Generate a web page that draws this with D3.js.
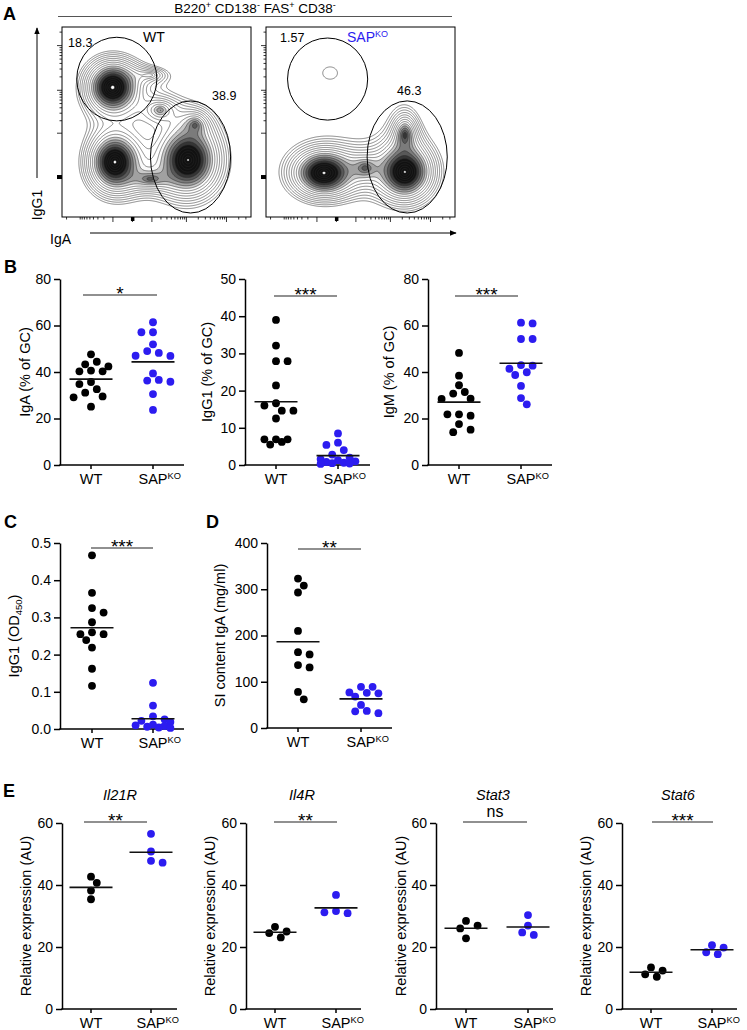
<!DOCTYPE html>
<html><head><meta charset="utf-8">
<script src="https://cdn.jsdelivr.net/npm/d3@7"></script>
<style>
body{margin:0;background:#fff}
svg text{font-family:"Liberation Sans",Arial,Helvetica,sans-serif;fill:#000}
</style></head>
<body><svg id="c" width="747" height="1030"></svg>
<script>
// ---------------- DATA ----------------
const groups = ["WT", "SAP"];
// Panel B
const igaWT  = [47.6, 44.4, 43.3, 42.4, 40.6, 40.3, 40.3, 35.7, 34.8, 32.6, 31.1, 29.5, 29.1, 25.1];
const igaSAP = [61.4, 57.1, 57.1, 51.9, 49.0, 48.2, 47.0, 46.9, 39.4, 36.6, 36.3, 35.8, 30.5, 23.7];
const igg1WT  = [39.0, 32.1, 27.9, 27.9, 21.4, 16.6, 16.0, 14.6, 14.6, 12.5, 6.9, 6.9, 6.9, 6.2, 5.5];
const igg1SAP = [8.5, 6.0, 5.4, 4.0, 2.8, 2.0, 1.6, 1.3, 1.0, 0.8, 0.6, 0.5, 0.4, 0.3];
const igmWT  = [48.2, 38.4, 34.3, 31.4, 30.7, 28.5, 28.4, 21.8, 21.8, 21.2, 17.6, 15.2, 14.1];
const igmSAP = [61.2, 60.9, 54.2, 54.2, 43.0, 42.7, 41.4, 39.9, 38.7, 34.0, 28.8, 26.1];
// Panel C
const odWT  = [0.467, 0.366, 0.325, 0.313, 0.287, 0.260, 0.255, 0.255, 0.239, 0.219, 0.162, 0.116];
const odSAP = [0.124, 0.063, 0.034, 0.026, 0.022, 0.019, 0.012, 0.010, 0.008, 0.006, 0.004, 0.003];
// Panel D
const siWT  = [323, 308, 293, 210, 164, 159, 136, 131, 78, 62];
const siSAP = [89, 89, 77, 76, 75, 68, 50, 37, 36, 32];
// Panel E
const il21rWT = [42.7, 40.7, 38.2, 35.4], il21rSAP = [56.5, 50.8, 47.8, 47.2];
const il4rWT  = [26.5, 25.0, 24.5, 23.1], il4rSAP  = [36.8, 31.6, 31.2, 30.9];
const stat3WT = [28.4, 26.9, 26.0, 22.8], stat3SAP = [30.3, 26.9, 24.7, 23.9];
const stat6WT = [13.4, 12.4, 11.2, 10.4], stat6SAP = [20.6, 19.8, 18.3, 17.7];
// tick labels
const ticksPct80 = [0, 20, 40, 60, 80];
const ticksPct50 = [0, 10, 20, 30, 40, 50];
const ticksOD = [0, 0.1, 0.2, 0.3, 0.4, 0.5];
const ticksSI = [0, 100, 200, 300, 400];
const ticksE = [0, 20, 40, 60];
const sigB = ["*", "***", "***"], sigC = "***", sigD = "**", sigE = ["**", "**", "ns", "***"];
const eTitles = ["Il21R", "Il4R", "Stat3", "Stat6"];
// Panel A: gate percentages and population shapes (fractions of plot box)
const gatesWT = ["18.3", "38.9"], gatesSAP = ["1.57", "46.3"];
const popWT = [
  {u:0.268, v:0.318, su:0.180, sv:0.180, w:1.20},
  {u:0.280, v:0.711, su:0.180, sv:0.205, w:1.15},
  {u:0.667, v:0.700, su:0.220, sv:0.245, w:1.10},
  {u:0.519, v:0.437, su:0.190, sv:0.140, w:0.24},
  {u:0.466, v:0.253, su:0.220, sv:0.090, w:0.15},
  {u:0.466, v:0.800, su:0.220, sv:0.100, w:0.28},
  {u:0.704, v:0.516, su:0.130, sv:0.130, w:0.26}
];
const popSAP = [
  {u:0.307, v:0.768, su:0.220, sv:0.165, w:1.15},
  {u:0.735, v:0.763, su:0.195, sv:0.195, w:1.10},
  {u:0.735, v:0.568, su:0.110, sv:0.190, w:0.40},
  {u:0.524, v:0.742, su:0.160, sv:0.130, w:0.28},
  {u:0.339, v:0.242, su:0.870, sv:0.720, w:0.057}
];

// ---------------- DRAW ----------------
const svg = d3.select("#c");
const BLUE = "#2c1cf0";
const FONT = 14;

function panelLetter(t, x, y) {
  svg.append("text").attr("x", x).attr("y", y).attr("font-size", 18).attr("font-weight", "bold").text(t);
}

function swarm(values, y, cx, r, step, maxSteps) {
  const placed = [], res = new Array(values.length);
  const order = values.map((v, i) => ({v, i})).sort((a, b) => b.v - a.v);
  const D = 2 * r + 0.4;
  order.forEach((d, k) => {
    const py = y(d.v);
    const sgn = k % 2 ? 1 : -1;
    const cands = [];
    for (let j = 0; j <= 2 * maxSteps; j++) cands.push(Math.ceil(j / 2) * (j % 2 ? sgn : -sgn));
    let best = null, bestD = -1;
    for (const m of cands) {
      const px = cx + m * step;
      const md = placed.length ? d3.min(placed, p => Math.hypot(p.x - px, p.y - py)) : Infinity;
      if (md >= D) { best = px; break; }
      if (md > bestD) { bestD = md; best = px; }
    }
    placed.push({x: best, y: py}); res[d.i] = {x: best, y: py};
  });
  return res;
}

function sapLabel(g, x, y, size) {
  const t = g.append("text").attr("y", y).attr("font-size", size);
  const s = t.append("tspan").text("SAP");
  t.append("tspan").attr("font-size", size * 0.64).attr("dy", -size * 0.36).text("KO");
  const L = s.node().getComputedTextLength();
  t.attr("x", x - L / 2);
  return t;
}

function dotPanel(c) {
  const g = svg.append("g");
  const y = d3.scaleLinear().domain([0, c.max]).range([c.y0, c.y1]);
  const x = d3.scalePoint().domain(groups).range([c.wtX, c.sapX]);
  const ax = d3.axisLeft(y).tickValues(c.ticks).tickSize(6).tickSizeOuter(0).tickPadding(3)
    .tickFormat(c.fmt ? d3.format(c.fmt) : d3.format("d"));
  const ga = g.append("g").attr("transform", `translate(${c.ax},0)`).call(ax);
  ga.selectAll("path,line").attr("stroke", "#000").attr("stroke-width", 1.5);
  ga.selectAll("text").attr("font-size", FONT).attr("font-family", '"Liberation Sans",Arial,sans-serif').attr("fill", "#000");
  g.append("line").attr("x1", c.ax - 0.75).attr("x2", c.xEnd).attr("y1", c.y0).attr("y2", c.y0)
    .attr("stroke", "#000").attr("stroke-width", 1.5);
  groups.forEach(k => {
    g.append("line").attr("x1", x(k)).attr("x2", x(k)).attr("y1", c.y0).attr("y2", c.y0 + 4)
      .attr("stroke", "#000").attr("stroke-width", 1.5);
  });
  g.append("text").attr("x", x("WT")).attr("y", c.y0 + 19).attr("text-anchor", "middle").attr("font-size", 14.5).text("WT");
  sapLabel(g, x("SAP"), c.y0 + 19, 14.5);
  const yl = g.append("text").attr("transform", `translate(${c.labelX},${(c.y0 + c.y1) / 2}) rotate(-90)`)
    .attr("text-anchor", "middle").attr("dominant-baseline", "central").attr("font-size", 14.5);
  if (c.labelParts) {
    yl.append("tspan").text(c.labelParts[0]);
    yl.append("tspan").attr("font-size", 9.5).attr("dy", 4).text(c.labelParts[1]);
    yl.append("tspan").attr("dy", -4).text(c.labelParts[2]);
  } else yl.text(c.label);
  const r = 3.9;
  [["WT", c.wt, "#000"], ["SAP", c.sap, BLUE]].forEach(([k, vals, col]) => {
    const pos = swarm(vals, y, x(k), r, 5.8, 3);
    g.append("g").selectAll("circle").data(pos).join("circle")
      .attr("cx", d => d.x).attr("cy", d => d.y).attr("r", r).attr("fill", col);
    const m = d3.mean(vals);
    g.append("line").attr("x1", x(k) - 21.5).attr("x2", x(k) + 21.5).attr("y1", y(m)).attr("y2", y(m))
      .attr("stroke", "#111").attr("stroke-width", 1.6);
  });
  g.append("line").attr("x1", c.sigX0).attr("x2", c.sigX1).attr("y1", c.sigY).attr("y2", c.sigY)
    .attr("stroke", "#222").attr("stroke-width", 1.2);
  if (c.sig === "ns") {
    g.append("text").attr("x", (c.sigX0 + c.sigX1) / 2).attr("y", c.sigY - 4.7).attr("text-anchor", "middle")
      .attr("font-size", 16).text("ns");
  } else {
    g.append("text").attr("x", (c.sigX0 + c.sigX1) / 2).attr("y", c.sigY + 4.5).attr("text-anchor", "middle")
      .attr("font-size", 19).text(c.sig);
  }
  if (c.title) {
    g.append("text").attr("x", c.titleX).attr("y", 800).attr("text-anchor", "middle")
      .attr("font-size", 14.5).attr("font-style", "italic").text(c.title);
  }
}

// ---------- Panel A ----------
panelLetter("A", 3, 20);
(function header() {
  const t = svg.append("text").attr("x", 255).attr("y", 13).attr("text-anchor", "middle").attr("font-size", 13.5);
  const parts = [["B220", "+"], [" CD138", "-"], [" FAS", "+"], [" CD38", "-"]];
  parts.forEach(([a, s], i) => {
    t.append("tspan").attr("dy", i === 0 ? 0 : 5).text(a);
    t.append("tspan").attr("font-size", 9).attr("dy", -5).text(s);
  });
  svg.append("line").attr("x1", 58).attr("x2", 452).attr("y1", 16.5).attr("y2", 16.5).attr("stroke", "#555").attr("stroke-width", 1.2);
})();

const boxTop = 27, boxH = 190, boxW = 189;
const fx = d3.scaleSymlog().constant(500).domain([-26000, 400000]).range([0, boxW]);
const fy = d3.scaleSymlog().constant(118).domain([-800, 260000]).range([boxH, 0]);
const flowMajor = [-1000, 0, 1000, 10000, 100000];
const flowMinor = [];
[1000, 10000, 100000].forEach(d => d3.range(2, 10).forEach(m => { flowMinor.push(m * d); flowMinor.push(-m * d); }));

const T0 = 0.05, TMAX = 1.7, NLEV = 22;
const flowLevels = d3.range(NLEV).map(k => T0 * Math.pow(TMAX / T0, k / (NLEV - 1)));
const shade = d3.interpolateRgb("#ffffff", "#111111");
function bandFill(t) {
  if (t >= 0.92) return "#ffffff";
  const g = Math.max(0, Math.min(1, (Math.log(t) - Math.log(0.16)) / (Math.log(0.45) - Math.log(0.16))));
  return shade(Math.pow(g, 0.85));
}

function flowPlot(left, pops, gates, labels, name, nameColor, nameX) {
  const g = svg.append("g");
  const clipId = "clip" + left;
  g.append("clipPath").attr("id", clipId).append("rect").attr("x", left).attr("y", boxTop).attr("width", boxW).attr("height", boxH);
  const gw = boxW, gh = boxH;
  const vals = new Float64Array(gw * gh);
  for (let j = 0; j < gh; j++) for (let i = 0; i < gw; i++) {
    const u = (i + 0.5) / gw, v = (j + 0.5) / gh;
    let s = 0;
    for (const p of pops) s += p.w * Math.exp(-3 * Math.hypot((u - p.u) / p.su, (v - p.v) / p.sv));
    vals[j * gw + i] = s;
  }
  const cont = d3.contours().size([gw, gh]).thresholds(flowLevels)(vals);
  const tr = d3.geoTransform({point(px, py) { this.stream.point(left + px, boxTop + py); }});
  const path = d3.geoPath(tr);
  g.append("g").attr("clip-path", `url(#${clipId})`).selectAll("path").data(cont).join("path")
    .attr("d", path)
    .attr("fill", d => bandFill(d.value))
    .attr("stroke", "#2a2a2a").attr("stroke-width", 0.55);
  g.append("rect").attr("x", left).attr("y", boxTop).attr("width", boxW).attr("height", boxH)
    .attr("fill", "none").attr("stroke", "#000").attr("stroke-width", 1);
  const tg = g.append("g").attr("stroke", "#000").attr("stroke-width", 0.8);
  flowMajor.forEach(t => {
    const X = left + fx(t), Y = boxTop + fy(t);
    if (X > left && X < left + boxW) tg.append("line").attr("x1", X).attr("x2", X).attr("y1", boxTop + boxH).attr("y2", boxTop + boxH + 5);
    if (Y > boxTop && Y < boxTop + boxH) tg.append("line").attr("x1", left).attr("x2", left - 5).attr("y1", Y).attr("y2", Y);
  });
  flowMinor.forEach(t => {
    const X = left + fx(t), Y = boxTop + fy(t);
    if (X > left + 1 && X < left + boxW - 1) tg.append("line").attr("x1", X).attr("x2", X).attr("y1", boxTop + boxH).attr("y2", boxTop + boxH + 2.5);
    if (Y > boxTop + 1 && Y < boxTop + boxH - 1) tg.append("line").attr("x1", left).attr("x2", left - 2.5).attr("y1", Y).attr("y2", Y);
  });
  g.append("rect").attr("x", left + fx(0) - 1.5).attr("y", boxTop + boxH).attr("width", 3.5).attr("height", 4).attr("fill", "#000");
  g.append("rect").attr("x", left - 5).attr("y", boxTop + fy(0) - 2).attr("width", 5).attr("height", 4).attr("fill", "#000");
  gates.forEach(e => {
    g.append("ellipse").attr("cx", left + e.u * boxW).attr("cy", boxTop + e.v * boxH)
      .attr("rx", e.ru * boxW).attr("ry", e.rv * boxH).attr("fill", "none").attr("stroke", "#000").attr("stroke-width", 1);
  });
  labels.forEach(l => g.append("text").attr("x", l.x).attr("y", l.y).attr("font-size", 12.5).text(l.t));
  const nt = g.append("text").attr("x", nameX).attr("y", 42).attr("font-size", 14).attr("fill", nameColor);
  if (name === "SAP") {
    nt.append("tspan").attr("fill", nameColor).text("SAP");
    nt.append("tspan").attr("fill", nameColor).attr("font-size", 9).attr("dy", -5).text("KO");
  } else nt.text(name);
}

flowPlot(62, popWT,
  [{u:0.29, v:0.274, ru:0.212, rv:0.22}, {u:0.68, v:0.684, ru:0.212, rv:0.295}],
  [{x:68, y:47, t:gatesWT[0]}, {x:212, y:100, t:gatesWT[1]}], "WT", "#000", 143);
flowPlot(266, popSAP,
  [{u:0.326, v:0.274, ru:0.212, rv:0.216}, {u:0.747, v:0.684, ru:0.212, rv:0.295}],
  [{x:280, y:42, t:gatesSAP[0]}, {x:397, y:95, t:gatesSAP[1]}], "SAP", BLUE, 347);

svg.append("defs").append("marker").attr("id", "arr").attr("viewBox", "0 0 10 10").attr("refX", 9).attr("refY", 5)
  .attr("markerWidth", 7).attr("markerHeight", 7).attr("orient", "auto")
  .append("path").attr("d", "M0,1 L10,5 L0,9 z").attr("fill", "#000");
svg.append("line").attr("x1", 37).attr("x2", 37).attr("y1", 178).attr("y2", 28).attr("stroke", "#000").attr("stroke-width", 1).attr("marker-end", "url(#arr)");
svg.append("line").attr("x1", 90).attr("x2", 456).attr("y1", 233).attr("y2", 233).attr("stroke", "#000").attr("stroke-width", 1).attr("marker-end", "url(#arr)");
svg.append("text").attr("transform", "translate(42,205) rotate(-90)").attr("text-anchor", "middle").attr("font-size", 14).text("IgG1");
svg.append("text").attr("x", 50).attr("y", 244).attr("font-size", 14).text("IgA");

// ---------- Panel B ----------
panelLetter("B", 4, 273);
dotPanel({ax:60, xEnd:184, wtX:91, sapX:153, y0:465, y1:279, max:80, ticks:ticksPct80, wt:igaWT, sap:igaSAP,
  label:"IgA (% of GC)", labelX:25, sig:sigB[0], sigY:295, sigX0:83, sigX1:157});
dotPanel({ax:245, xEnd:370, wtX:276, sapX:338, y0:465, y1:279, max:50, ticks:ticksPct50, wt:igg1WT, sap:igg1SAP,
  label:"IgG1 (% of GC)", labelX:207, sig:sigB[1], sigY:296, sigX0:274, sigX1:337});
dotPanel({ax:428, xEnd:552, wtX:459, sapX:521, y0:465, y1:279, max:80, ticks:ticksPct80, wt:igmWT, sap:igmSAP,
  label:"IgM (% of GC)", labelX:389, sig:sigB[2], sigY:296, sigX0:455, sigX1:518});

// ---------- Panels C, D ----------
panelLetter("C", 4, 528);
panelLetter("D", 206, 528);
dotPanel({ax:60, xEnd:184, wtX:92, sapX:153, y0:729, y1:543, max:0.5, ticks:ticksOD, fmt:".1f", wt:odWT, sap:odSAP,
  labelParts:["IgG1 (OD", "450", ")"], labelX:14, sig:sigC, sigY:548, sigX0:91, sigX1:153});
dotPanel({ax:267, xEnd:392, wtX:298, sapX:361, y0:728, y1:543, max:400, ticks:ticksSI, wt:siWT, sap:siSAP,
  label:"SI content IgA (mg/ml)", labelX:220, sig:sigD, sigY:549, sigX0:298, sigX1:361});

// ---------- Panel E ----------
panelLetter("E", 3, 797);
const eData = [[il21rWT, il21rSAP], [il4rWT, il4rSAP], [stat3WT, stat3SAP], [stat6WT, stat6SAP]];
const eLayout = [
  {ax:62, xEnd:177, wtX:91, sapX:151, labelX:26, sigX0:84, sigX1:147, titleX:120},
  {ax:246, xEnd:361, wtX:275, sapX:336, labelX:210, sigX0:274, sigX1:337, titleX:302},
  {ax:436, xEnd:553, wtX:466, sapX:528, labelX:401, sigX0:463, sigX1:527, titleX:493},
  {ax:622, xEnd:737, wtX:651, sapX:712, labelX:586, sigX0:652, sigX1:713, titleX:678}
];
eLayout.forEach((L, i) => dotPanel(Object.assign({}, L, {y0:1009, y1:823, max:60, ticks:ticksE,
  wt:eData[i][0], sap:eData[i][1], label:"Relative expression (AU)", sig:sigE[i], sigY:822, title:eTitles[i]})));
</script>
</body></html>
